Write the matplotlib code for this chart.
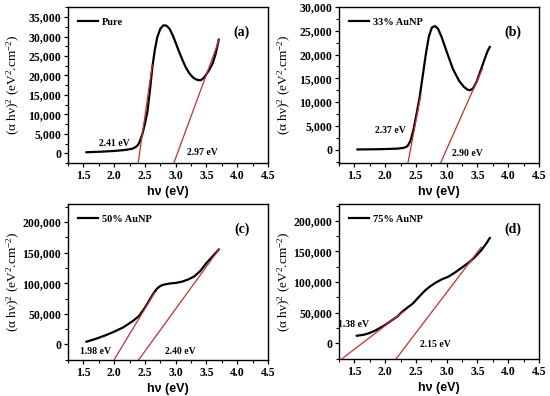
import matplotlib.pyplot as plt
from matplotlib.ticker import FuncFormatter, MultipleLocator, AutoMinorLocator

# panel (a) Pure
pure_x = [1.55, 1.8, 2.0, 2.15, 2.24, 2.3, 2.35, 2.39, 2.42, 2.46, 2.5, 2.54, 2.58, 2.62, 2.66,
          2.70, 2.75, 2.80, 2.85, 2.90, 2.95, 3.0, 3.05, 3.11, 3.16, 3.22, 3.28, 3.33, 3.37,
          3.41, 3.45, 3.49, 3.55, 3.60, 3.65, 3.70]
pure_y = [260, 420, 600, 800, 1000, 1200, 1600, 2200, 3200, 5000, 7600, 10600, 16000, 22000, 26500,
          29800, 32000, 32900, 32800, 32000, 30400, 28400, 26300, 24000, 22200, 20600, 19500, 19000, 18800,
          18800, 19300, 20100, 21600, 23100, 25600, 29200]
pure_fit1_x = [2.39, 2.62]
pure_fit1_y = [-2500, 22700]
pure_fit2_x = [2.97, 3.71]
pure_fit2_y = [-2500, 29300]

# panel (b) 33% AuNP
au33_x = [1.55, 1.8, 2.0, 2.2, 2.3, 2.36, 2.41, 2.46, 2.51, 2.56, 2.61, 2.66, 2.71, 2.76, 2.81,
          2.86, 2.92, 3.0, 3.1, 3.2, 3.28, 3.34, 3.38, 3.43, 3.49, 3.55, 3.61, 3.66, 3.70]
au33_y = [50, 80, 130, 220, 380, 700, 1800, 4200, 7500, 11000, 15500, 20000, 23800, 25700, 26000,
          25400, 23600, 20600, 17000, 14500, 13200, 12600, 12500, 12900, 14400, 16600, 18800, 20600, 21600]
au33_fit1_x = [2.37, 2.58]
au33_fit1_y = [-2800, 11500]
au33_fit2_x = [2.90, 3.58]
au33_fit2_y = [-2800, 17000]

# panel (c) 50% AuNP
au50_x = [1.55, 1.7, 1.85, 2.0, 2.15, 2.3, 2.4, 2.5, 2.6, 2.65, 2.7, 2.75, 2.8, 2.9, 3.0,
          3.1, 3.2, 3.3, 3.4, 3.5, 3.6, 3.7]
au50_y = [4400, 9000, 14500, 20800, 28000, 38000, 46000, 60000, 77000, 85000, 91500, 95500, 97500, 99500, 100500,
          102500, 106000, 111000, 120000, 133000, 144000, 155000]
au50_fit1_x = [2.00, 2.66]
au50_fit1_y = [-25000, 85000]
au50_fit2_x = [2.40, 3.70]
au50_fit2_y = [-25000, 155000]

# panel (d) 75% AuNP
au75_x = [1.54, 1.65, 1.75, 1.85, 2.0, 2.1, 2.2, 2.27, 2.35, 2.45, 2.55, 2.65, 2.73, 2.82, 2.92,
          3.03, 3.14, 3.25, 3.36, 3.46, 3.57, 3.65, 3.70]
au75_y = [12500, 14000, 17000, 21500, 30000, 37000, 44000, 51000, 57500, 65000, 76000, 86500, 93000, 99000, 104500,
          109000, 116000, 124000, 132000, 141000, 153000, 164000, 172000]
au75_fit1_x = [1.30, 2.30]
au75_fit1_y = [-25000, 52000]
au75_fit2_x = [2.18, 3.56]
au75_fit2_y = [-25000, 157000]

panels = [
    dict(x=pure_x, y=pure_y, f1=(pure_fit1_x, pure_fit1_y), f2=(pure_fit2_x, pure_fit2_y),
         label="Pure", tag="(a)", ylim=(-2500, 37600), ystep=5000,
         t1=("2.41 eV", 2.0, 2400), t2=("2.97 eV", 3.44, 100), pos=[68, 7, 268, 163]),
    dict(x=au33_x, y=au33_y, f1=(au33_fit1_x, au33_fit1_y), f2=(au33_fit2_x, au33_fit2_y),
         label="33% AuNP", tag="(b)", ylim=(-2800, 30000), ystep=5000,
         t1=("2.37 eV", 2.08, 4100), t2=("2.90 eV", 3.33, -800), pos=[339, 7, 539, 163]),
    dict(x=au50_x, y=au50_y, f1=(au50_fit1_x, au50_fit1_y), f2=(au50_fit2_x, au50_fit2_y),
         label="50% AuNP", tag="(c)", ylim=(-25500, 229500), ystep=50000,
         t1=("1.98 eV", 1.70, -11000), t2=("2.40 eV", 3.08, -11000), pos=[68, 204, 268, 360]),
    dict(x=au75_x, y=au75_y, f1=(au75_fit1_x, au75_fit1_y), f2=(au75_fit2_x, au75_fit2_y),
         label="75% AuNP", tag="(d)", ylim=(-25500, 227500), ystep=50000,
         t1=("1.38 eV", 1.49, 30400), t2=("2.15 eV", 2.81, -2000), pos=[339, 204, 539, 359]),
]

W, H = 550, 396
fig = plt.figure(figsize=(W / 100, H / 100), dpi=100)
serif = "Liberation Serif"
red = "#d42a2a"
plt.rcParams["mathtext.fontset"] = "custom"
plt.rcParams["mathtext.rm"] = serif
plt.rcParams["mathtext.it"] = serif + ":italic"
plt.rcParams["mathtext.bf"] = serif + ":bold"

for p in panels:
    l, t, r, b = p["pos"]
    ax = fig.add_axes([l / W, 1 - b / H, (r - l) / W, (b - t) / H])
    ax.plot(p["x"], p["y"], color="black", lw=1.6, label=p["label"], zorder=3)
    ax.plot(*p["f1"], color=red, lw=0.9, zorder=4)
    ax.plot(*p["f2"], color=red, lw=0.9, zorder=4)
    ax.set_xlim(1.25, 4.5)
    ax.set_ylim(*p["ylim"])
    ax.xaxis.set_major_locator(MultipleLocator(0.5))
    ax.xaxis.set_minor_locator(AutoMinorLocator(2))
    ax.yaxis.set_major_locator(MultipleLocator(p["ystep"]))
    ax.yaxis.set_minor_locator(AutoMinorLocator(2))
    ax.yaxis.set_major_formatter(FuncFormatter(lambda v, _: f"{int(round(v)):,}"))
    ax.tick_params(which="major", direction="out", length=3, width=0.9, pad=2)
    ax.tick_params(which="minor", direction="out", length=2, width=0.8)
    for lab in ax.get_xticklabels() + ax.get_yticklabels():
        lab.set_fontfamily(serif)
        lab.set_fontweight("bold")
        lab.set_fontsize(8.5)
    for s in ax.spines.values():
        s.set_linewidth(1.0)
    ax.set_xlabel("hν (eV)", fontfamily="Liberation Sans", fontweight="bold", fontsize=9, labelpad=3)
    ax.set_ylabel(r"(α hν)$^{2}$ (eV$^{2}$.cm$^{-2}$)", fontfamily=serif, fontsize=9.5)
    ax.yaxis.set_label_coords(-0.23, 0.5)
    ax.legend(loc="upper left", frameon=False, handlelength=1.9, handletextpad=0.4,
              borderaxespad=0.6, prop={"family": serif, "weight": "bold", "size": 7.5})
    ax.text(0.87, 0.84, p["tag"], transform=ax.transAxes, fontfamily=serif, fontsize=10,
            fontweight="bold", ha="center", va="center")
    for txt, tx, ty in (p["t1"], p["t2"]):
        ax.text(tx, ty, txt, fontfamily=serif, fontweight="bold", fontsize=7,
                ha="center", va="center")

fig.savefig("out.png", dpi=100)
